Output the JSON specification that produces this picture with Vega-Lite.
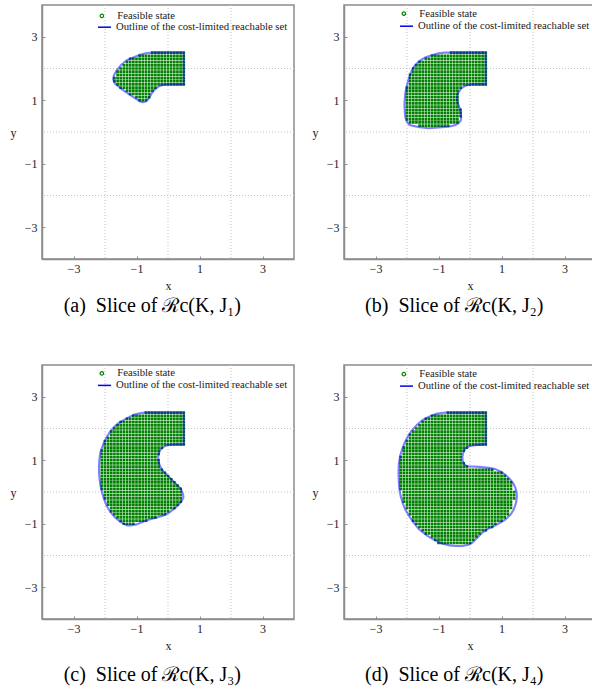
{
"$schema": "https://vega.github.io/schema/vega-lite/v6.json",
"background": "white",
"padding": {"left": 9, "top": 3, "right": 0, "bottom": 0},
"config": {
 "font": "Liberation Serif",
 "view": {"stroke": "#8c8c8c", "strokeWidth": 1.5},
 "axis": {"domainColor": "#8c8c8c", "domainWidth": 1.5, "tickColor": "#8c8c8c", "tickSize": -3, "tickWidth": 1, "labelFont": "Liberation Serif", "labelFontSize": 12, "labelColor": "#1a1a1a", "titleFont": "Liberation Serif", "titleFontSize": 12, "titleFontWeight": "normal", "titleColor": "#1a1a1a", "grid": false, "labelPadding": 7, "labelExpr": "replace(datum.label, '-', '\u2212')"},
 "axisX": {"titlePadding": 6},
 "axisY": {"titleAngle": 0, "titleX": -29, "titleY": 127, "titleAlign": "center", "titleBaseline": "middle", "labelPadding": 8},
 "legend": {"orient": "none", "padding": 0, "labelFont": "Liberation Serif", "labelFontSize": 10.7, "labelColor": "#1a1a1a", "labelLimit": 400, "symbolOpacity": 1, "rowPadding": 0},
 "title": {"font": "Liberation Serif", "fontSize": 20, "fontWeight": "normal", "color": "#000000", "anchor": "middle", "frame": "bounds"}
},
"datasets": {
 "grid": [{"g": -2}, {"g": 0}, {"g": 2}],
 "outline": [
  {"p": "a", "x": [0.5,-0.5,-0.7,-0.89,-1.1,-1.31,-1.48,-1.63,-1.72,-1.74,-1.68,-1.53,-1.37,-1.18,-0.99,-0.88,-0.8,-0.71,-0.64,-0.58,-0.52,-0.45,-0.36,-0.26,-0.15,0,0.5,0.5], "y": [2.5,2.5,2.48,2.43,2.35,2.26,2.12,1.94,1.78,1.66,1.52,1.4,1.28,1.15,1.03,0.96,0.94,0.96,1.02,1.11,1.21,1.31,1.39,1.45,1.49,1.5,1.5,2.5]},
  {"p": "b", "x": [0.5,-0.6,-0.8,-1,-1.22,-1.42,-1.6,-1.74,-1.83,-1.89,-1.95,-2,-2.05,-2.07,-2.08,-2.07,-2.05,-2,-1.93,-1.84,-1.6,-1.32,-1,-0.68,-0.48,-0.37,-0.29,-0.28,-0.3,-0.32,-0.37,-0.41,-0.41,-0.39,-0.28,-0.18,-0.1,0.05,0.5,0.5], "y": [2.5,2.5,2.5,2.48,2.42,2.35,2.24,2.11,1.98,1.84,1.66,1.47,1.25,1.05,0.85,0.64,0.45,0.32,0.23,0.2,0.15,0.12,0.14,0.17,0.21,0.27,0.37,0.48,0.62,0.74,0.87,1,1.1,1.21,1.37,1.44,1.47,1.5,1.5,2.5]},
  {"p": "c", "x": [0.5,-0.73,-0.9,-1.09,-1.33,-1.57,-1.71,-1.83,-1.95,-2.04,-2.1,-2.15,-2.18,-2.19,-2.19,-2.17,-2.14,-2.09,-2.02,-1.94,-1.82,-1.67,-1.5,-1.31,-1.15,-0.99,-0.78,-0.57,-0.35,-0.15,0.02,0.17,0.31,0.43,0.49,0.48,0.44,0.38,0.25,0.12,-0.02,-0.15,-0.22,-0.27,-0.31,-0.31,-0.28,-0.23,-0.14,-0.04,0.12,0.5,0.5], "y": [2.5,2.5,2.48,2.43,2.31,2.17,2.05,1.91,1.72,1.54,1.38,1.23,1,0.81,0.6,0.39,0.18,-0.03,-0.25,-0.45,-0.64,-0.81,-0.95,-1.05,-1.05,-1.02,-0.93,-0.86,-0.8,-0.74,-0.66,-0.55,-0.43,-0.29,-0.17,-0.08,0.03,0.13,0.26,0.39,0.52,0.65,0.75,0.86,1,1.13,1.25,1.34,1.42,1.47,1.49,1.5,2.5]},
  {"p": "d", "x": [0.5,-0.77,-0.9,-1.08,-1.3,-1.51,-1.7,-1.87,-1.98,-2.08,-2.16,-2.22,-2.26,-2.27,-2.26,-2.24,-2.2,-2.14,-2.05,-1.93,-1.78,-1.61,-1.35,-1.08,-0.87,-0.66,-0.45,-0.24,-0.08,0.07,0.22,0.39,0.57,0.76,0.95,1.13,1.28,1.39,1.46,1.49,1.47,1.44,1.38,1.28,1.14,0.97,0.8,0.6,0.28,-0.08,-0.17,-0.21,-0.24,-0.24,-0.21,-0.17,-0.1,-0.03,0.13,0.5,0.5], "y": [2.5,2.5,2.49,2.46,2.37,2.26,2.1,1.91,1.73,1.54,1.33,1.13,0.87,0.6,0.33,0.08,-0.13,-0.34,-0.56,-0.76,-0.98,-1.18,-1.38,-1.54,-1.63,-1.68,-1.7,-1.7,-1.67,-1.6,-1.45,-1.28,-1.16,-1.07,-0.97,-0.86,-0.72,-0.55,-0.35,-0.13,0.02,0.13,0.26,0.39,0.53,0.65,0.72,0.76,0.79,0.81,0.85,0.92,1.02,1.13,1.25,1.34,1.41,1.44,1.47,1.5,2.5]}
 ],
 "dots": [
  {"p":"a","y":2.5,"x":[-0.5,-0.4,-0.3,-0.2,-0.1,0,0.1,0.2,0.3,0.4,0.5]},
  {"p":"a","y":2.4,"x":[-0.9,-0.8,-0.7,-0.6,-0.5,-0.4,-0.3,-0.2,-0.1,0,0.1,0.2,0.3,0.4,0.5]},
  {"p":"a","y":2.3,"x":[-1.2,-1.1,-1,-0.9,-0.8,-0.7,-0.6,-0.5,-0.4,-0.3,-0.2,-0.1,0,0.1,0.2,0.3,0.4,0.5]},
  {"p":"a","y":2.2,"x":[-1.3,-1.2,-1.1,-1,-0.9,-0.8,-0.7,-0.6,-0.5,-0.4,-0.3,-0.2,-0.1,0,0.1,0.2,0.3,0.4,0.5]},
  {"p":"a","y":2.1,"x":[-1.4,-1.3,-1.2,-1.1,-1,-0.9,-0.8,-0.7,-0.6,-0.5,-0.4,-0.3,-0.2,-0.1,0,0.1,0.2,0.3,0.4,0.5]},
  {"p":"a","y":2,"x":[-1.5,-1.4,-1.3,-1.2,-1.1,-1,-0.9,-0.8,-0.7,-0.6,-0.5,-0.4,-0.3,-0.2,-0.1,0,0.1,0.2,0.3,0.4,0.5]},
  {"p":"a","y":1.9,"x":[-1.6,-1.5,-1.4,-1.3,-1.2,-1.1,-1,-0.9,-0.8,-0.7,-0.6,-0.5,-0.4,-0.3,-0.2,-0.1,0,0.1,0.2,0.3,0.4,0.5]},
  {"p":"a","y":1.8,"x":[-1.6,-1.5,-1.4,-1.3,-1.2,-1.1,-1,-0.9,-0.8,-0.7,-0.6,-0.5,-0.4,-0.3,-0.2,-0.1,0,0.1,0.2,0.3,0.4,0.5]},
  {"p":"a","y":1.7,"x":[-1.7,-1.6,-1.5,-1.4,-1.3,-1.2,-1.1,-1,-0.9,-0.8,-0.7,-0.6,-0.5,-0.4,-0.3,-0.2,-0.1,0,0.1,0.2,0.3,0.4,0.5]},
  {"p":"a","y":1.6,"x":[-1.7,-1.6,-1.5,-1.4,-1.3,-1.2,-1.1,-1,-0.9,-0.8,-0.7,-0.6,-0.5,-0.4,-0.3,-0.2,-0.1,0,0.1,0.2,0.3,0.4,0.5]},
  {"p":"a","y":1.5,"x":[-1.6,-1.5,-1.4,-1.3,-1.2,-1.1,-1,-0.9,-0.8,-0.7,-0.6,-0.5,-0.4,-0.3,-0.2,-0.1,0,0.1,0.2,0.3,0.4,0.5]},
  {"p":"a","y":1.4,"x":[-1.5,-1.4,-1.3,-1.2,-1.1,-1,-0.9,-0.8,-0.7,-0.6,-0.5,-0.4]},
  {"p":"a","y":1.3,"x":[-1.3,-1.2,-1.1,-1,-0.9,-0.8,-0.7,-0.6,-0.5]},
  {"p":"a","y":1.2,"x":[-1.2,-1.1,-1,-0.9,-0.8,-0.7,-0.6]},
  {"p":"a","y":1.1,"x":[-1,-0.9,-0.8,-0.7,-0.6]},
  {"p":"a","y":1,"x":[-0.9,-0.8,-0.7]},

  {"p":"b","y":2.5,"x":[-0.6,-0.5,-0.4,-0.3,-0.2,-0.1,0,0.1,0.2,0.3,0.4,0.5]},
  {"p":"b","y":2.4,"x":[-1.2,-1.1,-1,-0.9,-0.8,-0.7,-0.6,-0.5,-0.4,-0.3,-0.2,-0.1,0,0.1,0.2,0.3,0.4,0.5]},
  {"p":"b","y":2.3,"x":[-1.4,-1.3,-1.2,-1.1,-1,-0.9,-0.8,-0.7,-0.6,-0.5,-0.4,-0.3,-0.2,-0.1,0,0.1,0.2,0.3,0.4,0.5]},
  {"p":"b","y":2.2,"x":[-1.6,-1.5,-1.4,-1.3,-1.2,-1.1,-1,-0.9,-0.8,-0.7,-0.6,-0.5,-0.4,-0.3,-0.2,-0.1,0,0.1,0.2,0.3,0.4,0.5]},
  {"p":"b","y":2.1,"x":[-1.7,-1.6,-1.5,-1.4,-1.3,-1.2,-1.1,-1,-0.9,-0.8,-0.7,-0.6,-0.5,-0.4,-0.3,-0.2,-0.1,0,0.1,0.2,0.3,0.4,0.5]},
  {"p":"b","y":2,"x":[-1.8,-1.7,-1.6,-1.5,-1.4,-1.3,-1.2,-1.1,-1,-0.9,-0.8,-0.7,-0.6,-0.5,-0.4,-0.3,-0.2,-0.1,0,0.1,0.2,0.3,0.4,0.5]},
  {"p":"b","y":1.9,"x":[-1.8,-1.7,-1.6,-1.5,-1.4,-1.3,-1.2,-1.1,-1,-0.9,-0.8,-0.7,-0.6,-0.5,-0.4,-0.3,-0.2,-0.1,0,0.1,0.2,0.3,0.4,0.5]},
  {"p":"b","y":1.8,"x":[-1.9,-1.8,-1.7,-1.6,-1.5,-1.4,-1.3,-1.2,-1.1,-1,-0.9,-0.8,-0.7,-0.6,-0.5,-0.4,-0.3,-0.2,-0.1,0,0.1,0.2,0.3,0.4,0.5]},
  {"p":"b","y":1.7,"x":[-1.9,-1.8,-1.7,-1.6,-1.5,-1.4,-1.3,-1.2,-1.1,-1,-0.9,-0.8,-0.7,-0.6,-0.5,-0.4,-0.3,-0.2,-0.1,0,0.1,0.2,0.3,0.4,0.5]},
  {"p":"b","y":1.6,"x":[-1.9,-1.8,-1.7,-1.6,-1.5,-1.4,-1.3,-1.2,-1.1,-1,-0.9,-0.8,-0.7,-0.6,-0.5,-0.4,-0.3,-0.2,-0.1,0,0.1,0.2,0.3,0.4,0.5]},
  {"p":"b","y":1.5,"x":[-1.9,-1.8,-1.7,-1.6,-1.5,-1.4,-1.3,-1.2,-1.1,-1,-0.9,-0.8,-0.7,-0.6,-0.5,-0.4,-0.3,-0.2,-0.1,0,0.1,0.2,0.3,0.4,0.5]},
  {"p":"b","y":1.4,"x":[-2,-1.9,-1.8,-1.7,-1.6,-1.5,-1.4,-1.3,-1.2,-1.1,-1,-0.9,-0.8,-0.7,-0.6,-0.5,-0.4,-0.3]},
  {"p":"b","y":1.3,"x":[-2,-1.9,-1.8,-1.7,-1.6,-1.5,-1.4,-1.3,-1.2,-1.1,-1,-0.9,-0.8,-0.7,-0.6,-0.5,-0.4]},
  {"p":"b","y":1.2,"x":[-2,-1.9,-1.8,-1.7,-1.6,-1.5,-1.4,-1.3,-1.2,-1.1,-1,-0.9,-0.8,-0.7,-0.6,-0.5,-0.4]},
  {"p":"b","y":1.1,"x":[-2,-1.9,-1.8,-1.7,-1.6,-1.5,-1.4,-1.3,-1.2,-1.1,-1,-0.9,-0.8,-0.7,-0.6,-0.5,-0.4]},
  {"p":"b","y":1,"x":[-2,-1.9,-1.8,-1.7,-1.6,-1.5,-1.4,-1.3,-1.2,-1.1,-1,-0.9,-0.8,-0.7,-0.6,-0.5,-0.4]},
  {"p":"b","y":0.9,"x":[-2,-1.9,-1.8,-1.7,-1.6,-1.5,-1.4,-1.3,-1.2,-1.1,-1,-0.9,-0.8,-0.7,-0.6,-0.5,-0.4]},
  {"p":"b","y":0.8,"x":[-2,-1.9,-1.8,-1.7,-1.6,-1.5,-1.4,-1.3,-1.2,-1.1,-1,-0.9,-0.8,-0.7,-0.6,-0.5,-0.4]},
  {"p":"b","y":0.7,"x":[-2,-1.9,-1.8,-1.7,-1.6,-1.5,-1.4,-1.3,-1.2,-1.1,-1,-0.9,-0.8,-0.7,-0.6,-0.5,-0.4,-0.3]},
  {"p":"b","y":0.6,"x":[-2,-1.9,-1.8,-1.7,-1.6,-1.5,-1.4,-1.3,-1.2,-1.1,-1,-0.9,-0.8,-0.7,-0.6,-0.5,-0.4,-0.3]},
  {"p":"b","y":0.5,"x":[-2,-1.9,-1.8,-1.7,-1.6,-1.5,-1.4,-1.3,-1.2,-1.1,-1,-0.9,-0.8,-0.7,-0.6,-0.5,-0.4,-0.3]},
  {"p":"b","y":0.4,"x":[-2,-1.9,-1.8,-1.7,-1.6,-1.5,-1.4,-1.3,-1.2,-1.1,-1,-0.9,-0.8,-0.7,-0.6,-0.5,-0.4]},
  {"p":"b","y":0.3,"x":[-1.9,-1.8,-1.7,-1.6,-1.5,-1.4,-1.3,-1.2,-1.1,-1,-0.9,-0.8,-0.7,-0.6,-0.5,-0.4]},
  {"p":"b","y":0.2,"x":[-1.6,-1.5,-1.4,-1.3,-1.2,-1.1,-1,-0.9,-0.8,-0.7]},

  {"p":"c","y":2.5,"x":[-0.7,-0.6,-0.5,-0.4,-0.3,-0.2,-0.1,0,0.1,0.2,0.3,0.4,0.5]},
  {"p":"c","y":2.4,"x":[-1.1,-1,-0.9,-0.8,-0.7,-0.6,-0.5,-0.4,-0.3,-0.2,-0.1,0,0.1,0.2,0.3,0.4,0.5]},
  {"p":"c","y":2.3,"x":[-1.3,-1.2,-1.1,-1,-0.9,-0.8,-0.7,-0.6,-0.5,-0.4,-0.3,-0.2,-0.1,0,0.1,0.2,0.3,0.4,0.5]},
  {"p":"c","y":2.2,"x":[-1.5,-1.4,-1.3,-1.2,-1.1,-1,-0.9,-0.8,-0.7,-0.6,-0.5,-0.4,-0.3,-0.2,-0.1,0,0.1,0.2,0.3,0.4,0.5]},
  {"p":"c","y":2.1,"x":[-1.6,-1.5,-1.4,-1.3,-1.2,-1.1,-1,-0.9,-0.8,-0.7,-0.6,-0.5,-0.4,-0.3,-0.2,-0.1,0,0.1,0.2,0.3,0.4,0.5]},
  {"p":"c","y":2,"x":[-1.7,-1.6,-1.5,-1.4,-1.3,-1.2,-1.1,-1,-0.9,-0.8,-0.7,-0.6,-0.5,-0.4,-0.3,-0.2,-0.1,0,0.1,0.2,0.3,0.4,0.5]},
  {"p":"c","y":1.9,"x":[-1.8,-1.7,-1.6,-1.5,-1.4,-1.3,-1.2,-1.1,-1,-0.9,-0.8,-0.7,-0.6,-0.5,-0.4,-0.3,-0.2,-0.1,0,0.1,0.2,0.3,0.4,0.5]},
  {"p":"c","y":1.8,"x":[-1.8,-1.7,-1.6,-1.5,-1.4,-1.3,-1.2,-1.1,-1,-0.9,-0.8,-0.7,-0.6,-0.5,-0.4,-0.3,-0.2,-0.1,0,0.1,0.2,0.3,0.4,0.5]},
  {"p":"c","y":1.7,"x":[-1.9,-1.8,-1.7,-1.6,-1.5,-1.4,-1.3,-1.2,-1.1,-1,-0.9,-0.8,-0.7,-0.6,-0.5,-0.4,-0.3,-0.2,-0.1,0,0.1,0.2,0.3,0.4,0.5]},
  {"p":"c","y":1.6,"x":[-2,-1.9,-1.8,-1.7,-1.6,-1.5,-1.4,-1.3,-1.2,-1.1,-1,-0.9,-0.8,-0.7,-0.6,-0.5,-0.4,-0.3,-0.2,-0.1,0,0.1,0.2,0.3,0.4,0.5]},
  {"p":"c","y":1.5,"x":[-2,-1.9,-1.8,-1.7,-1.6,-1.5,-1.4,-1.3,-1.2,-1.1,-1,-0.9,-0.8,-0.7,-0.6,-0.5,-0.4,-0.3,-0.2,-0.1,0,0.1,0.2,0.3,0.4,0.5]},
  {"p":"c","y":1.4,"x":[-2,-1.9,-1.8,-1.7,-1.6,-1.5,-1.4,-1.3,-1.2,-1.1,-1,-0.9,-0.8,-0.7,-0.6,-0.5,-0.4,-0.3,-0.2]},
  {"p":"c","y":1.3,"x":[-2.1,-2,-1.9,-1.8,-1.7,-1.6,-1.5,-1.4,-1.3,-1.2,-1.1,-1,-0.9,-0.8,-0.7,-0.6,-0.5,-0.4,-0.3]},
  {"p":"c","y":1.2,"x":[-2.1,-2,-1.9,-1.8,-1.7,-1.6,-1.5,-1.4,-1.3,-1.2,-1.1,-1,-0.9,-0.8,-0.7,-0.6,-0.5,-0.4,-0.3]},
  {"p":"c","y":1.1,"x":[-2.1,-2,-1.9,-1.8,-1.7,-1.6,-1.5,-1.4,-1.3,-1.2,-1.1,-1,-0.9,-0.8,-0.7,-0.6,-0.5,-0.4]},
  {"p":"c","y":1,"x":[-2.1,-2,-1.9,-1.8,-1.7,-1.6,-1.5,-1.4,-1.3,-1.2,-1.1,-1,-0.9,-0.8,-0.7,-0.6,-0.5,-0.4,-0.3]},
  {"p":"c","y":0.9,"x":[-2.1,-2,-1.9,-1.8,-1.7,-1.6,-1.5,-1.4,-1.3,-1.2,-1.1,-1,-0.9,-0.8,-0.7,-0.6,-0.5,-0.4,-0.3]},
  {"p":"c","y":0.8,"x":[-2.1,-2,-1.9,-1.8,-1.7,-1.6,-1.5,-1.4,-1.3,-1.2,-1.1,-1,-0.9,-0.8,-0.7,-0.6,-0.5,-0.4,-0.3]},
  {"p":"c","y":0.7,"x":[-2.1,-2,-1.9,-1.8,-1.7,-1.6,-1.5,-1.4,-1.3,-1.2,-1.1,-1,-0.9,-0.8,-0.7,-0.6,-0.5,-0.4,-0.3,-0.2]},
  {"p":"c","y":0.6,"x":[-2.1,-2,-1.9,-1.8,-1.7,-1.6,-1.5,-1.4,-1.3,-1.2,-1.1,-1,-0.9,-0.8,-0.7,-0.6,-0.5,-0.4,-0.3,-0.2,-0.1]},
  {"p":"c","y":0.5,"x":[-2.1,-2,-1.9,-1.8,-1.7,-1.6,-1.5,-1.4,-1.3,-1.2,-1.1,-1,-0.9,-0.8,-0.7,-0.6,-0.5,-0.4,-0.3,-0.2,-0.1,0]},
  {"p":"c","y":0.4,"x":[-2.1,-2,-1.9,-1.8,-1.7,-1.6,-1.5,-1.4,-1.3,-1.2,-1.1,-1,-0.9,-0.8,-0.7,-0.6,-0.5,-0.4,-0.3,-0.2,-0.1,0,0.1]},
  {"p":"c","y":0.3,"x":[-2.1,-2,-1.9,-1.8,-1.7,-1.6,-1.5,-1.4,-1.3,-1.2,-1.1,-1,-0.9,-0.8,-0.7,-0.6,-0.5,-0.4,-0.3,-0.2,-0.1,0,0.1,0.2]},
  {"p":"c","y":0.2,"x":[-2.1,-2,-1.9,-1.8,-1.7,-1.6,-1.5,-1.4,-1.3,-1.2,-1.1,-1,-0.9,-0.8,-0.7,-0.6,-0.5,-0.4,-0.3,-0.2,-0.1,0,0.1,0.2,0.3]},
  {"p":"c","y":0.1,"x":[-2.1,-2,-1.9,-1.8,-1.7,-1.6,-1.5,-1.4,-1.3,-1.2,-1.1,-1,-0.9,-0.8,-0.7,-0.6,-0.5,-0.4,-0.3,-0.2,-0.1,0,0.1,0.2,0.3,0.4]},
  {"p":"c","y":0,"x":[-2,-1.9,-1.8,-1.7,-1.6,-1.5,-1.4,-1.3,-1.2,-1.1,-1,-0.9,-0.8,-0.7,-0.6,-0.5,-0.4,-0.3,-0.2,-0.1,0,0.1,0.2,0.3,0.4]},
  {"p":"c","y":-0.1,"x":[-2,-1.9,-1.8,-1.7,-1.6,-1.5,-1.4,-1.3,-1.2,-1.1,-1,-0.9,-0.8,-0.7,-0.6,-0.5,-0.4,-0.3,-0.2,-0.1,0,0.1,0.2,0.3,0.4]},
  {"p":"c","y":-0.2,"x":[-2,-1.9,-1.8,-1.7,-1.6,-1.5,-1.4,-1.3,-1.2,-1.1,-1,-0.9,-0.8,-0.7,-0.6,-0.5,-0.4,-0.3,-0.2,-0.1,0,0.1,0.2,0.3,0.4]},
  {"p":"c","y":-0.3,"x":[-1.9,-1.8,-1.7,-1.6,-1.5,-1.4,-1.3,-1.2,-1.1,-1,-0.9,-0.8,-0.7,-0.6,-0.5,-0.4,-0.3,-0.2,-0.1,0,0.1,0.2,0.3,0.4]},
  {"p":"c","y":-0.4,"x":[-1.9,-1.8,-1.7,-1.6,-1.5,-1.4,-1.3,-1.2,-1.1,-1,-0.9,-0.8,-0.7,-0.6,-0.5,-0.4,-0.3,-0.2,-0.1,0,0.1,0.2,0.3]},
  {"p":"c","y":-0.5,"x":[-1.8,-1.7,-1.6,-1.5,-1.4,-1.3,-1.2,-1.1,-1,-0.9,-0.8,-0.7,-0.6,-0.5,-0.4,-0.3,-0.2,-0.1,0,0.1,0.2]},
  {"p":"c","y":-0.6,"x":[-1.8,-1.7,-1.6,-1.5,-1.4,-1.3,-1.2,-1.1,-1,-0.9,-0.8,-0.7,-0.6,-0.5,-0.4,-0.3,-0.2,-0.1,0]},
  {"p":"c","y":-0.7,"x":[-1.7,-1.6,-1.5,-1.4,-1.3,-1.2,-1.1,-1,-0.9,-0.8,-0.7,-0.6,-0.5,-0.4,-0.3,-0.2,-0.1]},
  {"p":"c","y":-0.8,"x":[-1.6,-1.5,-1.4,-1.3,-1.2,-1.1,-1,-0.9,-0.8,-0.7,-0.6,-0.5,-0.4]},
  {"p":"c","y":-0.9,"x":[-1.5,-1.4,-1.3,-1.2,-1.1,-1,-0.9,-0.8,-0.7]},
  {"p":"c","y":-1,"x":[-1.4,-1.3,-1.2,-1.1]},

  {"p":"d","y":2.5,"x":[-0.7,-0.6,-0.5,-0.4,-0.3,-0.2,-0.1,0,0.1,0.2,0.3,0.4,0.5]},
  {"p":"d","y":2.4,"x":[-1.2,-1.1,-1,-0.9,-0.8,-0.7,-0.6,-0.5,-0.4,-0.3,-0.2,-0.1,0,0.1,0.2,0.3,0.4,0.5]},
  {"p":"d","y":2.3,"x":[-1.4,-1.3,-1.2,-1.1,-1,-0.9,-0.8,-0.7,-0.6,-0.5,-0.4,-0.3,-0.2,-0.1,0,0.1,0.2,0.3,0.4,0.5]},
  {"p":"d","y":2.2,"x":[-1.5,-1.4,-1.3,-1.2,-1.1,-1,-0.9,-0.8,-0.7,-0.6,-0.5,-0.4,-0.3,-0.2,-0.1,0,0.1,0.2,0.3,0.4,0.5]},
  {"p":"d","y":2.1,"x":[-1.6,-1.5,-1.4,-1.3,-1.2,-1.1,-1,-0.9,-0.8,-0.7,-0.6,-0.5,-0.4,-0.3,-0.2,-0.1,0,0.1,0.2,0.3,0.4,0.5]},
  {"p":"d","y":2,"x":[-1.7,-1.6,-1.5,-1.4,-1.3,-1.2,-1.1,-1,-0.9,-0.8,-0.7,-0.6,-0.5,-0.4,-0.3,-0.2,-0.1,0,0.1,0.2,0.3,0.4,0.5]},
  {"p":"d","y":1.9,"x":[-1.8,-1.7,-1.6,-1.5,-1.4,-1.3,-1.2,-1.1,-1,-0.9,-0.8,-0.7,-0.6,-0.5,-0.4,-0.3,-0.2,-0.1,0,0.1,0.2,0.3,0.4,0.5]},
  {"p":"d","y":1.8,"x":[-1.9,-1.8,-1.7,-1.6,-1.5,-1.4,-1.3,-1.2,-1.1,-1,-0.9,-0.8,-0.7,-0.6,-0.5,-0.4,-0.3,-0.2,-0.1,0,0.1,0.2,0.3,0.4,0.5]},
  {"p":"d","y":1.7,"x":[-1.9,-1.8,-1.7,-1.6,-1.5,-1.4,-1.3,-1.2,-1.1,-1,-0.9,-0.8,-0.7,-0.6,-0.5,-0.4,-0.3,-0.2,-0.1,0,0.1,0.2,0.3,0.4,0.5]},
  {"p":"d","y":1.6,"x":[-2,-1.9,-1.8,-1.7,-1.6,-1.5,-1.4,-1.3,-1.2,-1.1,-1,-0.9,-0.8,-0.7,-0.6,-0.5,-0.4,-0.3,-0.2,-0.1,0,0.1,0.2,0.3,0.4,0.5]},
  {"p":"d","y":1.5,"x":[-2,-1.9,-1.8,-1.7,-1.6,-1.5,-1.4,-1.3,-1.2,-1.1,-1,-0.9,-0.8,-0.7,-0.6,-0.5,-0.4,-0.3,-0.2,-0.1,0,0.1,0.2,0.3,0.4,0.5]},
  {"p":"d","y":1.4,"x":[-2.1,-2,-1.9,-1.8,-1.7,-1.6,-1.5,-1.4,-1.3,-1.2,-1.1,-1,-0.9,-0.8,-0.7,-0.6,-0.5,-0.4,-0.3,-0.2,-0.1]},
  {"p":"d","y":1.3,"x":[-2.1,-2,-1.9,-1.8,-1.7,-1.6,-1.5,-1.4,-1.3,-1.2,-1.1,-1,-0.9,-0.8,-0.7,-0.6,-0.5,-0.4,-0.3,-0.2]},
  {"p":"d","y":1.2,"x":[-2.1,-2,-1.9,-1.8,-1.7,-1.6,-1.5,-1.4,-1.3,-1.2,-1.1,-1,-0.9,-0.8,-0.7,-0.6,-0.5,-0.4,-0.3]},
  {"p":"d","y":1.1,"x":[-2.2,-2.1,-2,-1.9,-1.8,-1.7,-1.6,-1.5,-1.4,-1.3,-1.2,-1.1,-1,-0.9,-0.8,-0.7,-0.6,-0.5,-0.4,-0.3]},
  {"p":"d","y":1,"x":[-2.2,-2.1,-2,-1.9,-1.8,-1.7,-1.6,-1.5,-1.4,-1.3,-1.2,-1.1,-1,-0.9,-0.8,-0.7,-0.6,-0.5,-0.4,-0.3]},
  {"p":"d","y":0.9,"x":[-2.2,-2.1,-2,-1.9,-1.8,-1.7,-1.6,-1.5,-1.4,-1.3,-1.2,-1.1,-1,-0.9,-0.8,-0.7,-0.6,-0.5,-0.4,-0.3,-0.2]},
  {"p":"d","y":0.8,"x":[-2.2,-2.1,-2,-1.9,-1.8,-1.7,-1.6,-1.5,-1.4,-1.3,-1.2,-1.1,-1,-0.9,-0.8,-0.7,-0.6,-0.5,-0.4,-0.3,-0.2,-0.1]},
  {"p":"d","y":0.7,"x":[-2.2,-2.1,-2,-1.9,-1.8,-1.7,-1.6,-1.5,-1.4,-1.3,-1.2,-1.1,-1,-0.9,-0.8,-0.7,-0.6,-0.5,-0.4,-0.3,-0.2,-0.1,0,0.1,0.2,0.3,0.4,0.5,0.6,0.7]},
  {"p":"d","y":0.6,"x":[-2.2,-2.1,-2,-1.9,-1.8,-1.7,-1.6,-1.5,-1.4,-1.3,-1.2,-1.1,-1,-0.9,-0.8,-0.7,-0.6,-0.5,-0.4,-0.3,-0.2,-0.1,0,0.1,0.2,0.3,0.4,0.5,0.6,0.7,0.8,0.9,1]},
  {"p":"d","y":0.5,"x":[-2.2,-2.1,-2,-1.9,-1.8,-1.7,-1.6,-1.5,-1.4,-1.3,-1.2,-1.1,-1,-0.9,-0.8,-0.7,-0.6,-0.5,-0.4,-0.3,-0.2,-0.1,0,0.1,0.2,0.3,0.4,0.5,0.6,0.7,0.8,0.9,1,1.1]},
  {"p":"d","y":0.4,"x":[-2.2,-2.1,-2,-1.9,-1.8,-1.7,-1.6,-1.5,-1.4,-1.3,-1.2,-1.1,-1,-0.9,-0.8,-0.7,-0.6,-0.5,-0.4,-0.3,-0.2,-0.1,0,0.1,0.2,0.3,0.4,0.5,0.6,0.7,0.8,0.9,1,1.1,1.2]},
  {"p":"d","y":0.3,"x":[-2.2,-2.1,-2,-1.9,-1.8,-1.7,-1.6,-1.5,-1.4,-1.3,-1.2,-1.1,-1,-0.9,-0.8,-0.7,-0.6,-0.5,-0.4,-0.3,-0.2,-0.1,0,0.1,0.2,0.3,0.4,0.5,0.6,0.7,0.8,0.9,1,1.1,1.2,1.3]},
  {"p":"d","y":0.2,"x":[-2.2,-2.1,-2,-1.9,-1.8,-1.7,-1.6,-1.5,-1.4,-1.3,-1.2,-1.1,-1,-0.9,-0.8,-0.7,-0.6,-0.5,-0.4,-0.3,-0.2,-0.1,0,0.1,0.2,0.3,0.4,0.5,0.6,0.7,0.8,0.9,1,1.1,1.2,1.3]},
  {"p":"d","y":0.1,"x":[-2.2,-2.1,-2,-1.9,-1.8,-1.7,-1.6,-1.5,-1.4,-1.3,-1.2,-1.1,-1,-0.9,-0.8,-0.7,-0.6,-0.5,-0.4,-0.3,-0.2,-0.1,0,0.1,0.2,0.3,0.4,0.5,0.6,0.7,0.8,0.9,1,1.1,1.2,1.3]},
  {"p":"d","y":0,"x":[-2.1,-2,-1.9,-1.8,-1.7,-1.6,-1.5,-1.4,-1.3,-1.2,-1.1,-1,-0.9,-0.8,-0.7,-0.6,-0.5,-0.4,-0.3,-0.2,-0.1,0,0.1,0.2,0.3,0.4,0.5,0.6,0.7,0.8,0.9,1,1.1,1.2,1.3,1.4]},
  {"p":"d","y":-0.1,"x":[-2.1,-2,-1.9,-1.8,-1.7,-1.6,-1.5,-1.4,-1.3,-1.2,-1.1,-1,-0.9,-0.8,-0.7,-0.6,-0.5,-0.4,-0.3,-0.2,-0.1,0,0.1,0.2,0.3,0.4,0.5,0.6,0.7,0.8,0.9,1,1.1,1.2,1.3,1.4]},
  {"p":"d","y":-0.2,"x":[-2.1,-2,-1.9,-1.8,-1.7,-1.6,-1.5,-1.4,-1.3,-1.2,-1.1,-1,-0.9,-0.8,-0.7,-0.6,-0.5,-0.4,-0.3,-0.2,-0.1,0,0.1,0.2,0.3,0.4,0.5,0.6,0.7,0.8,0.9,1,1.1,1.2,1.3,1.4]},
  {"p":"d","y":-0.3,"x":[-2.1,-2,-1.9,-1.8,-1.7,-1.6,-1.5,-1.4,-1.3,-1.2,-1.1,-1,-0.9,-0.8,-0.7,-0.6,-0.5,-0.4,-0.3,-0.2,-0.1,0,0.1,0.2,0.3,0.4,0.5,0.6,0.7,0.8,0.9,1,1.1,1.2,1.3]},
  {"p":"d","y":-0.4,"x":[-2,-1.9,-1.8,-1.7,-1.6,-1.5,-1.4,-1.3,-1.2,-1.1,-1,-0.9,-0.8,-0.7,-0.6,-0.5,-0.4,-0.3,-0.2,-0.1,0,0.1,0.2,0.3,0.4,0.5,0.6,0.7,0.8,0.9,1,1.1,1.2,1.3]},
  {"p":"d","y":-0.5,"x":[-2,-1.9,-1.8,-1.7,-1.6,-1.5,-1.4,-1.3,-1.2,-1.1,-1,-0.9,-0.8,-0.7,-0.6,-0.5,-0.4,-0.3,-0.2,-0.1,0,0.1,0.2,0.3,0.4,0.5,0.6,0.7,0.8,0.9,1,1.1,1.2,1.3]},
  {"p":"d","y":-0.6,"x":[-1.9,-1.8,-1.7,-1.6,-1.5,-1.4,-1.3,-1.2,-1.1,-1,-0.9,-0.8,-0.7,-0.6,-0.5,-0.4,-0.3,-0.2,-0.1,0,0.1,0.2,0.3,0.4,0.5,0.6,0.7,0.8,0.9,1,1.1,1.2]},
  {"p":"d","y":-0.7,"x":[-1.9,-1.8,-1.7,-1.6,-1.5,-1.4,-1.3,-1.2,-1.1,-1,-0.9,-0.8,-0.7,-0.6,-0.5,-0.4,-0.3,-0.2,-0.1,0,0.1,0.2,0.3,0.4,0.5,0.6,0.7,0.8,0.9,1,1.1,1.2]},
  {"p":"d","y":-0.8,"x":[-1.8,-1.7,-1.6,-1.5,-1.4,-1.3,-1.2,-1.1,-1,-0.9,-0.8,-0.7,-0.6,-0.5,-0.4,-0.3,-0.2,-0.1,0,0.1,0.2,0.3,0.4,0.5,0.6,0.7,0.8,0.9,1,1.1]},
  {"p":"d","y":-0.9,"x":[-1.8,-1.7,-1.6,-1.5,-1.4,-1.3,-1.2,-1.1,-1,-0.9,-0.8,-0.7,-0.6,-0.5,-0.4,-0.3,-0.2,-0.1,0,0.1,0.2,0.3,0.4,0.5,0.6,0.7,0.8,0.9,1]},
  {"p":"d","y":-1,"x":[-1.7,-1.6,-1.5,-1.4,-1.3,-1.2,-1.1,-1,-0.9,-0.8,-0.7,-0.6,-0.5,-0.4,-0.3,-0.2,-0.1,0,0.1,0.2,0.3,0.4,0.5,0.6,0.7,0.8]},
  {"p":"d","y":-1.1,"x":[-1.6,-1.5,-1.4,-1.3,-1.2,-1.1,-1,-0.9,-0.8,-0.7,-0.6,-0.5,-0.4,-0.3,-0.2,-0.1,0,0.1,0.2,0.3,0.4,0.5,0.6,0.7]},
  {"p":"d","y":-1.2,"x":[-1.5,-1.4,-1.3,-1.2,-1.1,-1,-0.9,-0.8,-0.7,-0.6,-0.5,-0.4,-0.3,-0.2,-0.1,0,0.1,0.2,0.3,0.4,0.5]},
  {"p":"d","y":-1.3,"x":[-1.4,-1.3,-1.2,-1.1,-1,-0.9,-0.8,-0.7,-0.6,-0.5,-0.4,-0.3,-0.2,-0.1,0,0.1,0.2,0.3]},
  {"p":"d","y":-1.4,"x":[-1.2,-1.1,-1,-0.9,-0.8,-0.7,-0.6,-0.5,-0.4,-0.3,-0.2,-0.1,0,0.1,0.2]},
  {"p":"d","y":-1.5,"x":[-1.1,-1,-0.9,-0.8,-0.7,-0.6,-0.5,-0.4,-0.3,-0.2,-0.1,0,0.1]},
  {"p":"d","y":-1.6,"x":[-1,-0.9,-0.8,-0.7,-0.6,-0.5,-0.4,-0.3,-0.2,-0.1,0]}
 ]
},
"vconcat": [
 {"hconcat": [
  {"width": 252, "height": 254,
   "title": {"text": "(a)\u2002Slice of \u211bc(K, J\u2081)", "orient": "bottom", "offset": 5},
   "layer": [
    {"data": {"name": "grid"}, "mark": {"type": "rule", "color": "#c4c4c4", "strokeDash": [1, 2], "strokeWidth": 1},
     "encoding": {"x": {"field": "g", "type": "quantitative", "scale": {"domain": [-4, 4], "nice": false}, "axis": {"values": [-3, -1, 1, 3]}, "title": "x"}}},
    {"data": {"name": "grid"}, "mark": {"type": "rule", "color": "#c4c4c4", "strokeDash": [1, 2], "strokeWidth": 1},
     "encoding": {"y": {"field": "g", "type": "quantitative", "scale": {"domain": [-4, 4], "nice": false}, "axis": {"values": [-3, -1, 1, 3]}, "title": "y"}}},
    {"data": {"name": "dots"}, "transform": [{"filter": "datum.p === 'a'"}, {"flatten": ["x"]}],
     "mark": {"type": "point", "shape": "square", "filled": false, "size": 2, "strokeWidth": 1.3, "opacity": 1},
     "encoding": {
      "x": {"field": "x", "type": "quantitative", "scale": {"domain": [-4, 4], "nice": false}, "axis": {"values": [-3, -1, 1, 3]}, "title": "x"},
      "y": {"field": "y", "type": "quantitative", "scale": {"domain": [-4, 4], "nice": false}, "axis": {"values": [-3, -1, 1, 3]}, "title": "y"},
      "color": {"datum": "Feasible state", "type": "nominal", "scale": {"range": ["#008000"]}, "legend": {"title": null, "legendX": 54.5, "legendY": 5.5, "symbolType": "circle", "symbolSize": 12, "symbolStrokeWidth": 1.2, "labelOffset": 10}}}},
    {"data": {"name": "outline"}, "transform": [{"filter": "datum.p === 'a'"}, {"flatten": ["x", "y"]}],
     "mark": {"type": "line", "strokeWidth": 2.1, "opacity": 0.5, "strokeJoin": "round"},
     "encoding": {
      "x": {"field": "x", "type": "quantitative", "scale": {"domain": [-4, 4], "nice": false}, "axis": {"values": [-3, -1, 1, 3]}, "title": "x"},
      "y": {"field": "y", "type": "quantitative", "scale": {"domain": [-4, 4], "nice": false}, "axis": {"values": [-3, -1, 1, 3]}, "title": "y"},
      "order": {"value": null},
      "color": {"datum": "Outline of the cost-limited reachable set", "type": "nominal", "scale": {"range": ["#0000ff"]}, "legend": {"title": null, "legendX": 55, "legendY": 14.7, "symbolType": "stroke", "symbolSize": 170, "symbolStrokeWidth": 1.5, "labelOffset": 4}}}}
   ],
   "resolve": {"scale": {"color": "independent"}, "legend": {"color": "independent"}}},
  {"width": 252, "height": 254,
   "title": {"text": "(b)\u2002Slice of \u211bc(K, J\u2082)", "orient": "bottom", "offset": 5},
   "layer": [
    {"data": {"name": "grid"}, "mark": {"type": "rule", "color": "#c4c4c4", "strokeDash": [1, 2], "strokeWidth": 1},
     "encoding": {"x": {"field": "g", "type": "quantitative", "scale": {"domain": [-4, 4], "nice": false}, "axis": {"values": [-3, -1, 1, 3]}, "title": "x"}}},
    {"data": {"name": "grid"}, "mark": {"type": "rule", "color": "#c4c4c4", "strokeDash": [1, 2], "strokeWidth": 1},
     "encoding": {"y": {"field": "g", "type": "quantitative", "scale": {"domain": [-4, 4], "nice": false}, "axis": {"values": [-3, -1, 1, 3]}, "title": "y"}}},
    {"data": {"name": "dots"}, "transform": [{"filter": "datum.p === 'b'"}, {"flatten": ["x"]}],
     "mark": {"type": "point", "shape": "square", "filled": false, "size": 2, "strokeWidth": 1.3, "opacity": 1},
     "encoding": {
      "x": {"field": "x", "type": "quantitative", "scale": {"domain": [-4, 4], "nice": false}, "axis": {"values": [-3, -1, 1, 3]}, "title": "x"},
      "y": {"field": "y", "type": "quantitative", "scale": {"domain": [-4, 4], "nice": false}, "axis": {"values": [-3, -1, 1, 3]}, "title": "y"},
      "color": {"datum": "Feasible state", "type": "nominal", "scale": {"range": ["#008000"]}, "legend": {"title": null, "legendX": 54.5, "legendY": 3.2, "symbolType": "circle", "symbolSize": 12, "symbolStrokeWidth": 1.2, "labelOffset": 10}}}},
    {"data": {"name": "outline"}, "transform": [{"filter": "datum.p === 'b'"}, {"flatten": ["x", "y"]}],
     "mark": {"type": "line", "strokeWidth": 2.1, "opacity": 0.5, "strokeJoin": "round"},
     "encoding": {
      "x": {"field": "x", "type": "quantitative", "scale": {"domain": [-4, 4], "nice": false}, "axis": {"values": [-3, -1, 1, 3]}, "title": "x"},
      "y": {"field": "y", "type": "quantitative", "scale": {"domain": [-4, 4], "nice": false}, "axis": {"values": [-3, -1, 1, 3]}, "title": "y"},
      "order": {"value": null},
      "color": {"datum": "Outline of the cost-limited reachable set", "type": "nominal", "scale": {"range": ["#0000ff"]}, "legend": {"title": null, "legendX": 55, "legendY": 13.7, "symbolType": "stroke", "symbolSize": 170, "symbolStrokeWidth": 1.5, "labelOffset": 4}}}}
   ],
   "resolve": {"scale": {"color": "independent"}, "legend": {"color": "independent"}}}
 ], "spacing": 15},
 {"hconcat": [
  {"width": 252, "height": 254,
   "title": {"text": "(c)\u2002Slice of \u211bc(K, J\u2083)", "orient": "bottom", "offset": 14},
   "layer": [
    {"data": {"name": "grid"}, "mark": {"type": "rule", "color": "#c4c4c4", "strokeDash": [1, 2], "strokeWidth": 1},
     "encoding": {"x": {"field": "g", "type": "quantitative", "scale": {"domain": [-4, 4], "nice": false}, "axis": {"values": [-3, -1, 1, 3]}, "title": "x"}}},
    {"data": {"name": "grid"}, "mark": {"type": "rule", "color": "#c4c4c4", "strokeDash": [1, 2], "strokeWidth": 1},
     "encoding": {"y": {"field": "g", "type": "quantitative", "scale": {"domain": [-4, 4], "nice": false}, "axis": {"values": [-3, -1, 1, 3]}, "title": "y"}}},
    {"data": {"name": "dots"}, "transform": [{"filter": "datum.p === 'c'"}, {"flatten": ["x"]}],
     "mark": {"type": "point", "shape": "square", "filled": false, "size": 2, "strokeWidth": 1.3, "opacity": 1},
     "encoding": {
      "x": {"field": "x", "type": "quantitative", "scale": {"domain": [-4, 4], "nice": false}, "axis": {"values": [-3, -1, 1, 3]}, "title": "x"},
      "y": {"field": "y", "type": "quantitative", "scale": {"domain": [-4, 4], "nice": false}, "axis": {"values": [-3, -1, 1, 3]}, "title": "y"},
      "color": {"datum": "Feasible state", "type": "nominal", "scale": {"range": ["#008000"]}, "legend": {"title": null, "legendX": 54.5, "legendY": 3.1, "symbolType": "circle", "symbolSize": 12, "symbolStrokeWidth": 1.2, "labelOffset": 10}}}},
    {"data": {"name": "outline"}, "transform": [{"filter": "datum.p === 'c'"}, {"flatten": ["x", "y"]}],
     "mark": {"type": "line", "strokeWidth": 2.1, "opacity": 0.5, "strokeJoin": "round"},
     "encoding": {
      "x": {"field": "x", "type": "quantitative", "scale": {"domain": [-4, 4], "nice": false}, "axis": {"values": [-3, -1, 1, 3]}, "title": "x"},
      "y": {"field": "y", "type": "quantitative", "scale": {"domain": [-4, 4], "nice": false}, "axis": {"values": [-3, -1, 1, 3]}, "title": "y"},
      "order": {"value": null},
      "color": {"datum": "Outline of the cost-limited reachable set", "type": "nominal", "scale": {"range": ["#0000ff"]}, "legend": {"title": null, "legendX": 55, "legendY": 12.9, "symbolType": "stroke", "symbolSize": 170, "symbolStrokeWidth": 1.5, "labelOffset": 4}}}}
   ],
   "resolve": {"scale": {"color": "independent"}, "legend": {"color": "independent"}}},
  {"width": 252, "height": 254,
   "title": {"text": "(d)\u2002Slice of \u211bc(K, J\u2084)", "orient": "bottom", "offset": 14},
   "layer": [
    {"data": {"name": "grid"}, "mark": {"type": "rule", "color": "#c4c4c4", "strokeDash": [1, 2], "strokeWidth": 1},
     "encoding": {"x": {"field": "g", "type": "quantitative", "scale": {"domain": [-4, 4], "nice": false}, "axis": {"values": [-3, -1, 1, 3]}, "title": "x"}}},
    {"data": {"name": "grid"}, "mark": {"type": "rule", "color": "#c4c4c4", "strokeDash": [1, 2], "strokeWidth": 1},
     "encoding": {"y": {"field": "g", "type": "quantitative", "scale": {"domain": [-4, 4], "nice": false}, "axis": {"values": [-3, -1, 1, 3]}, "title": "y"}}},
    {"data": {"name": "dots"}, "transform": [{"filter": "datum.p === 'd'"}, {"flatten": ["x"]}],
     "mark": {"type": "point", "shape": "square", "filled": false, "size": 2, "strokeWidth": 1.3, "opacity": 1},
     "encoding": {
      "x": {"field": "x", "type": "quantitative", "scale": {"domain": [-4, 4], "nice": false}, "axis": {"values": [-3, -1, 1, 3]}, "title": "x"},
      "y": {"field": "y", "type": "quantitative", "scale": {"domain": [-4, 4], "nice": false}, "axis": {"values": [-3, -1, 1, 3]}, "title": "y"},
      "color": {"datum": "Feasible state", "type": "nominal", "scale": {"range": ["#008000"]}, "legend": {"title": null, "legendX": 54.5, "legendY": 3.8, "symbolType": "circle", "symbolSize": 12, "symbolStrokeWidth": 1.2, "labelOffset": 10}}}},
    {"data": {"name": "outline"}, "transform": [{"filter": "datum.p === 'd'"}, {"flatten": ["x", "y"]}],
     "mark": {"type": "line", "strokeWidth": 2.1, "opacity": 0.5, "strokeJoin": "round"},
     "encoding": {
      "x": {"field": "x", "type": "quantitative", "scale": {"domain": [-4, 4], "nice": false}, "axis": {"values": [-3, -1, 1, 3]}, "title": "x"},
      "y": {"field": "y", "type": "quantitative", "scale": {"domain": [-4, 4], "nice": false}, "axis": {"values": [-3, -1, 1, 3]}, "title": "y"},
      "order": {"value": null},
      "color": {"datum": "Outline of the cost-limited reachable set", "type": "nominal", "scale": {"range": ["#0000ff"]}, "legend": {"title": null, "legendX": 55, "legendY": 13.6, "symbolType": "stroke", "symbolSize": 170, "symbolStrokeWidth": 1.5, "labelOffset": 4}}}}
   ],
   "resolve": {"scale": {"color": "independent"}, "legend": {"color": "independent"}}}
 ], "spacing": 15}
],
"spacing": 46
}
